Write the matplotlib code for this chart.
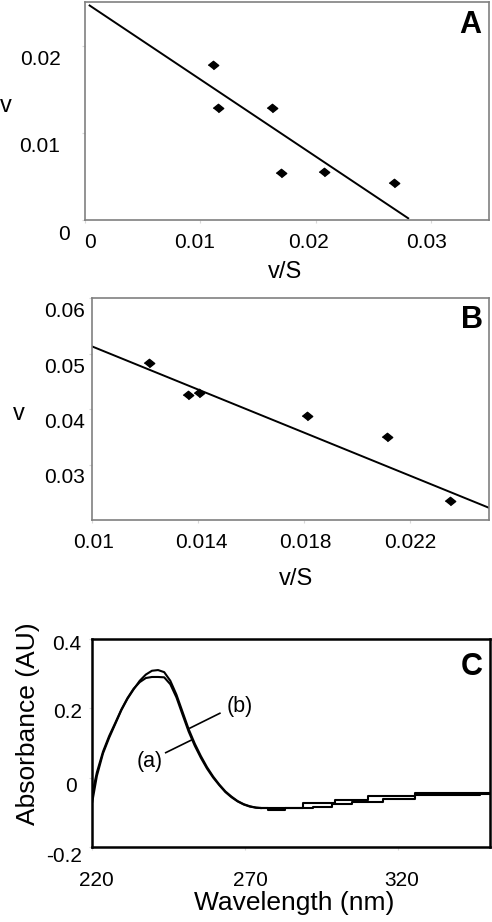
import numpy as np
import matplotlib.pyplot as plt
from matplotlib.transforms import blended_transform_factory, ScaledTranslation

plt.rcParams['font.family'] = ['Liberation Sans', 'DejaVu Sans']

W, H = 492, 922

# --- Panel A: v against v/S
a_vs = [0.0111, 0.0115, 0.0162, 0.0170, 0.0207, 0.0268]
a_v = [0.01776, 0.0128, 0.01288, 0.00542, 0.00553, 0.00424]
a_fit_x = [0.0004, 0.0280]
a_fit_y = [0.0246, 0.0002]
a_xticks = [0, 0.01, 0.02, 0.03]
a_xlabels = ['0', '0.01', '0.02', '0.03']
a_yticks = [0, 0.01, 0.02]
a_ylabels = ['0', '0.01', '0.02']

# --- Panel B
b_vs = [0.01216, 0.01361, 0.01405, 0.01813, 0.02113, 0.02352]
b_v = [0.04827, 0.04255, 0.04286, 0.03876, 0.03503, 0.02343]
b_fit_x = [0.010, 0.025]
b_fit_y = [0.0513, 0.0222]
b_xticks = [0.01, 0.014, 0.018, 0.022]
b_xlabels = ['0.01', '0.014', '0.018', '0.022']
b_yticks = [0.03, 0.04, 0.05, 0.06]
b_ylabels = ['0.03', '0.04', '0.05', '0.06']

# --- Panel C: spectra
wl = [220, 221.5, 223.5, 225.5, 227.5, 229.5, 231.5, 233.5, 235.5, 237.5,
      239.5, 241.5, 243.5, 245.5, 247.5, 249.5, 251.5, 253.5, 255.5, 257.5,
      259.5, 261.5, 263.5, 265.5, 267.5, 269.5, 271.5, 273.5, 275]
abs_1 = [-0.07, 0.005, 0.07, 0.115, 0.155, 0.195, 0.228, 0.255, 0.28, 0.298,
         0.309, 0.311, 0.305, 0.28, 0.24, 0.19, 0.14, 0.098, 0.062, 0.03,
         0.003, -0.02, -0.04, -0.055, -0.068, -0.077, -0.083, -0.087, -0.088]
abs_2 = [-0.045, 0.015, 0.075, 0.12, 0.158, 0.197, 0.23, 0.257, 0.276, 0.288,
         0.291, 0.291, 0.29, 0.27, 0.232, 0.182, 0.133, 0.092, 0.057, 0.026,
         0.0, -0.022, -0.042, -0.057, -0.069, -0.078, -0.084, -0.087, -0.088]
# stepped tails (digitised baseline)
tail1_wl = [275, 289, 299.3, 310, 325.5, 350]
tail1_abs = [-0.088, -0.074, -0.065, -0.054, -0.046, -0.046]
tail2_wl = [275, 277.4, 283, 292, 298.3, 304.8, 315, 325.5, 346.7, 350]
tail2_abs = [-0.088, -0.094, -0.088, -0.084, -0.077, -0.070, -0.062, -0.050, -0.047, -0.047]
c_xticks = [220, 270, 320]
c_yticks = [-0.2, 0, 0.2, 0.4]
c_ylabels = ['-0.2', '0', '0.2', '0.4']

fig = plt.figure(figsize=(W / 100, H / 100), dpi=100)


def px_axes(l, t, r, b):
    return fig.add_axes([l / W, 1 - b / H, (r - l) / W, (b - t) / H])


def off(dx, dy):
    # offset in pixels, dy positive = down
    return ScaledTranslation(dx / 100, -dy / 100, fig.dpi_scale_trans)


def ylabels(ax, ticks, labels, dx, dy, size=15):
    tr = blended_transform_factory(ax.transAxes, ax.transData)
    for t, s, x0, y0 in zip(ticks, labels, dx, dy):
        ax.text(0, t, s, transform=tr + off(x0, y0), ha='right', va='baseline',
                fontsize=size)


def xlabels(ax, ticks, labels, dx, dy, size=15):
    tr = blended_transform_factory(ax.transData, ax.transAxes)
    for t, s, x0 in zip(ticks, labels, dx):
        ax.text(t, 0, s, transform=tr + off(x0, dy), ha='center', va='baseline',
                fontsize=size)


def style(ax, color, lw):
    for sp in ax.spines.values():
        sp.set_color(color)
        sp.set_linewidth(lw)
    ax.tick_params(length=2, color='#d8d8d8', labelleft=False, labelbottom=False)


diamond = [(-1, 0), (0, 0.8), (1, 0), (0, -0.8)]

# Panel A
axA = px_axes(85, 2, 489, 220)
axA.plot(a_vs, a_v, linestyle='none', marker=diamond, ms=7.5, color='black')
axA.plot(a_fit_x, a_fit_y, color='black', lw=1.4)
axA.set_xlim(0, 0.035)
axA.set_ylim(0, 0.025)
axA.set_xticks(a_xticks)
axA.set_yticks(a_yticks)
style(axA, '#808080', 1.2)
ylabels(axA, a_yticks, a_ylabels, [-15, -24.5, -24.5], [20, 19, 19.5])
xlabels(axA, a_xticks, a_xlabels, [5, -6, -7, -5], 28)
fig.text(6 / W, 1 - 112 / H, 'v', ha='center', va='baseline', fontsize=17)
fig.text(285 / W, 1 - 278 / H, 'v/S', ha='center', va='baseline', fontsize=17)
fig.text(481 / W, 1 - 33 / H, 'A', ha='right', va='baseline', fontsize=22,
         fontweight='bold')

# Panel B
axB = px_axes(92.3, 298.3, 489, 520)
axB.plot(b_vs, b_v, linestyle='none', marker=diamond, ms=7.5, color='black')
axB.plot(b_fit_x, b_fit_y, color='black', lw=1.4)
axB.set_xlim(0.01, 0.025)
axB.set_ylim(0.02, 0.06)
axB.set_xticks(b_xticks)
axB.set_yticks(b_yticks)
style(axB, '#808080', 1.2)
ylabels(axB, b_yticks, b_ylabels, [-7.3] * 4, [18.8] * 4)
xlabels(axB, b_xticks, b_xlabels, [1, 3.5, 2, 1], 28)
fig.text(19 / W, 1 - 420 / H, 'v', ha='center', va='baseline', fontsize=17)
fig.text(296 / W, 1 - 585 / H, 'v/S', ha='center', va='baseline', fontsize=17)
fig.text(483 / W, 1 - 328 / H, 'B', ha='right', va='baseline', fontsize=22,
         fontweight='bold')

# Panel C
axC = px_axes(92.3, 639.3, 490, 846.7)
axC.plot(wl, abs_1, color='black', lw=1.5)
axC.plot(wl, abs_2, color='black', lw=1.5)
axC.plot(tail1_wl, tail1_abs, color='black', lw=1.5, drawstyle='steps-post')
axC.plot(tail2_wl, tail2_abs, color='black', lw=1.5, drawstyle='steps-post')
axC.plot([261.7, 251.9], [0.186, 0.143], color='black', lw=1.2)
axC.plot([244.0, 252.5], [0.072, 0.109], color='black', lw=1.2)
axC.text(268.3, 0.205, '(b)', ha='center', va='center', fontsize=15.5)
axC.text(238.9, 0.046, '(a)', ha='center', va='center', fontsize=15.5)
axC.set_xlim(220, 350)
axC.set_ylim(-0.2, 0.4)
axC.set_xticks(c_xticks)
axC.set_yticks(c_yticks)
style(axC, 'black', 1.8)
ylabels(axC, c_yticks, c_ylabels, [-10.6, -15.6, -10.6, -10.6], [15, 14, 10, 10.7])
xlabels(axC, c_xticks, [str(t) for t in c_xticks], [4.4, 5, 3.4], 39.5)
fig.text(28 / W, 1 - 723.5 / H, 'Absorbance (AU)', rotation=90, ha='center',
         va='center', fontsize=19)
fig.text(294 / W, 1 - 910 / H, 'Wavelength (nm)', ha='center', va='baseline',
         fontsize=19)
fig.text(483 / W, 1 - 675 / H, 'C', ha='right', va='baseline', fontsize=22,
         fontweight='bold')

fig.savefig('out.png', dpi=100)
